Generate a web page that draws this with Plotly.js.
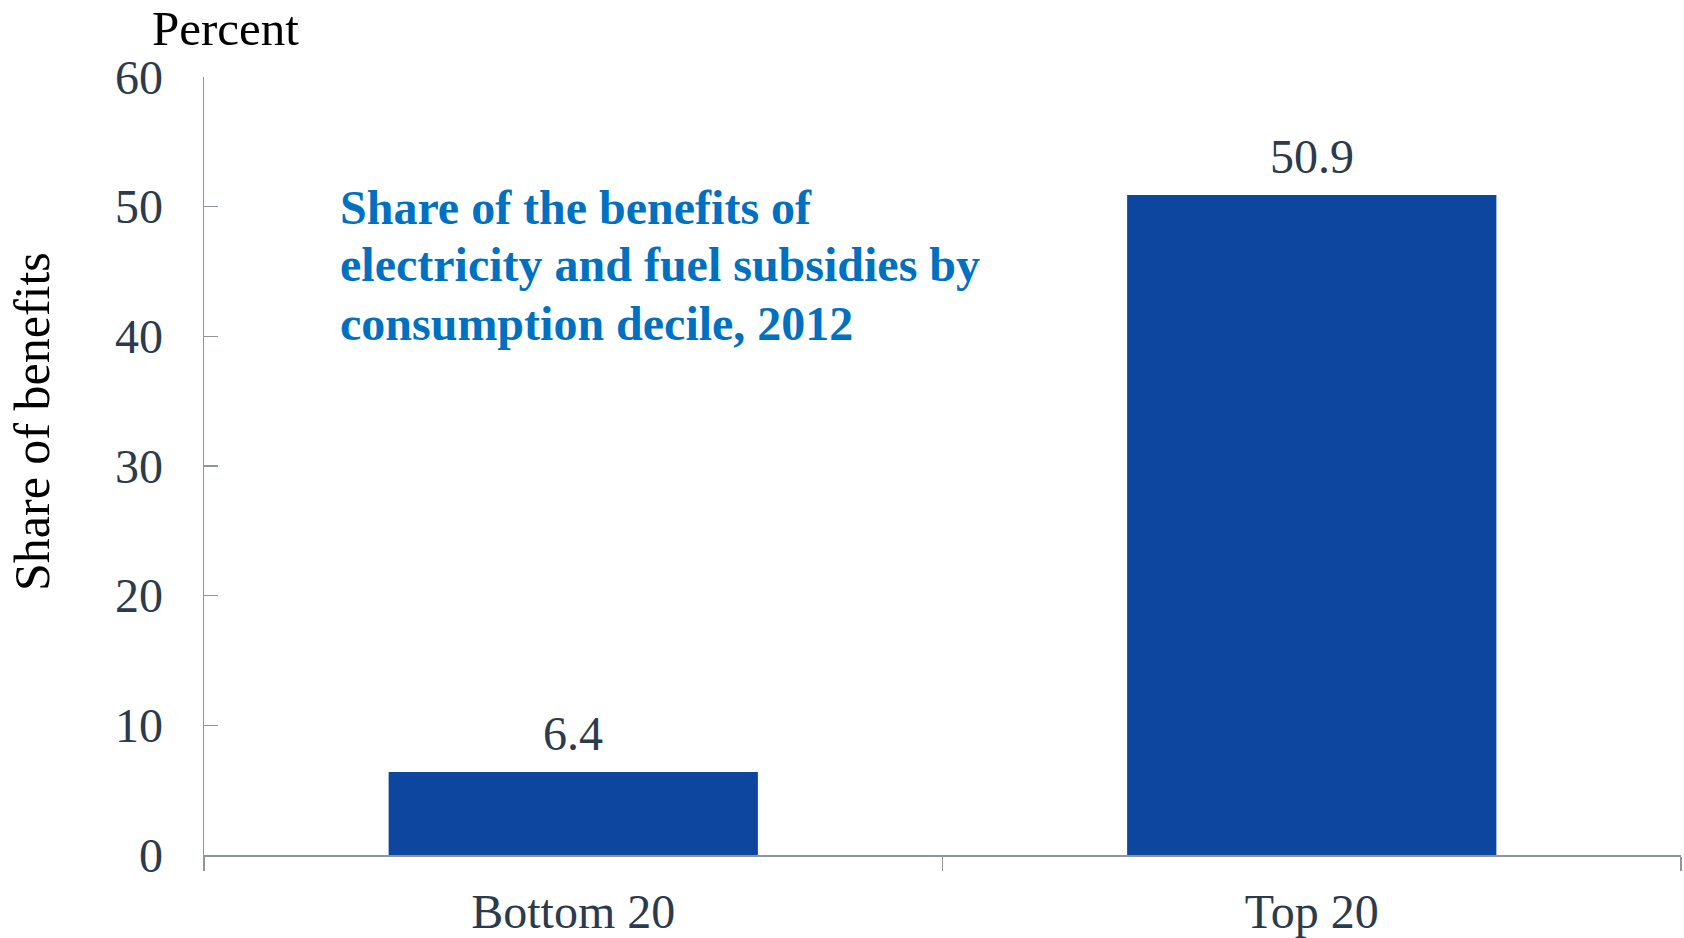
<!DOCTYPE html>
<html>
<head>
<meta charset="utf-8">
<script src="https://cdn.plot.ly/plotly-3.0.1.min.js"></script>
<style>html,body{margin:0;padding:0;background:#fff;}#chart{width:1684px;height:938px;}</style>
</head>
<body>
<div id="chart"></div>
<script>
const categories = ["Bottom 20", "Top 20"];
const shareValues = [6.4, 50.9];
const valueLabels = ["6.4", "50.9"];
const yTickValues = [0, 10, 20, 30, 40, 50, 60];
const titleLines = [
  "Share of the benefits of",
  "electricity and fuel subsidies by",
  "consumption decile, 2012"
];

const serif = "Liberation Serif, Times New Roman, serif";
const slate = "#2b3a4d";
const axisGray = "#8f959c";

const W = 1684, H = 938;
const M = {l: 204, r: 3, t: 77, b: 83};
const plotW = W - M.l - M.r, plotH = H - M.t - M.b;
const px2paperX = p => (p - M.l) / plotW;
const px2paperY = p => (H - M.b - p) / plotH;

const trace = {
  type: "bar",
  x: categories,
  y: shareValues,
  marker: {color: "#0c469e"},
  hoverinfo: "skip"
};

const annotations = [
  {
    text: "Percent",
    xref: "paper", yref: "paper",
    x: px2paperX(225), y: px2paperY(0),
    xanchor: "center", yanchor: "top",
    borderpad: 0,
    showarrow: false,
    font: {family: serif, size: 49, color: "#000000"}
  },
  {
    text: "Share of benefits",
    xref: "paper", yref: "paper",
    x: px2paperX(32), y: px2paperY(422),
    xanchor: "center", yanchor: "middle",
    textangle: -90,
    showarrow: false,
    font: {family: serif, size: 50, color: "#000000"}
  }
];

const linePx = [207, 265, 323];
titleLines.forEach((line, i) => {
  annotations.push({
    text: "<b>" + line + "</b>",
    xref: "paper", yref: "paper",
    x: px2paperX(338), y: px2paperY(linePx[i]),
    xanchor: "left", yanchor: "middle", align: "left",
    showarrow: false,
    font: {family: serif, size: 48, color: "#0070c0"}
  });
});

categories.forEach((c, i) => {
  annotations.push({
    text: valueLabels[i],
    x: c, y: shareValues[i],
    xref: "x", yref: "y",
    xanchor: "center", yanchor: "bottom",
    yshift: 10,
    showarrow: false,
    font: {family: serif, size: 48, color: slate}
  });
});

const layout = {
  width: W,
  height: H,
  margin: M,
  paper_bgcolor: "#ffffff",
  plot_bgcolor: "#ffffff",
  showlegend: false,
  bargap: 0.5,
  font: {family: serif, size: 48, color: slate},
  xaxis: {
    type: "category",
    range: [-0.5, 1.5],
    showline: true,
    linecolor: axisGray,
    linewidth: 2,
    ticks: "outside",
    tickson: "boundaries",
    ticklen: 14,
    tickwidth: 1.5,
    tickcolor: axisGray,
    showgrid: false,
    zeroline: false,
    tickfont: {family: serif, size: 48, color: slate},
    ticklabelstandoff: 13
  },
  yaxis: {
    range: [0, 60],
    tickvals: yTickValues,
    showline: true,
    linecolor: axisGray,
    linewidth: 1.5,
    ticks: "inside",
    ticklen: 14,
    tickwidth: 1.5,
    tickcolor: axisGray,
    showgrid: false,
    zeroline: false,
    tickfont: {family: serif, size: 48, color: slate},
    ticklabelstandoff: 30
  },
  annotations: annotations
};

Plotly.newPlot("chart", [trace], layout, {displayModeBar: false, staticPlot: true});
</script>
</body>
</html>
